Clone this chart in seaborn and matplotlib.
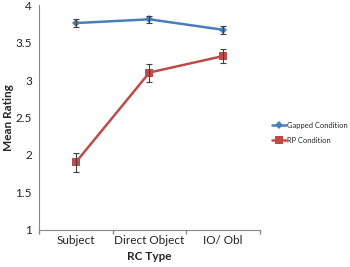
import matplotlib
matplotlib.use("Agg")
import matplotlib.pyplot as plt
import numpy as np
import pandas as pd
import seaborn as sns

rc_types = ["Subject", "Direct Object", "IO/ Obl"]
gapped_mean = [3.76, 3.81, 3.67]
gapped_err = [0.05, 0.045, 0.05]
rp_mean = [1.90, 3.10, 3.32]
rp_err = [0.13, 0.12, 0.095]

sns.set_theme(style="white")
plt.rcParams["font.family"] = ["Lato", "DejaVu Sans"]

df = pd.DataFrame({
    "RC Type": rc_types * 2,
    "Mean Rating": gapped_mean + rp_mean,
    "err": gapped_err + rp_err,
    "Condition": ["Gapped Condition"] * 3 + ["RP Condition"] * 3,
})

colors = {"Gapped Condition": "#4A7EBB", "RP Condition": "#BE4B48"}
markers = {"Gapped Condition": "D", "RP Condition": "s"}
sizes = {"Gapped Condition": 4, "RP Condition": 6}

fig = plt.figure(figsize=(3.5, 2.67), dpi=100)
ax = fig.add_axes([0.111, 0.139, 0.632, 0.842])

xpos = np.arange(len(rc_types))
for cond, sub in df.groupby("Condition", sort=False):
    sns.lineplot(x=xpos, y=sub["Mean Rating"].values, ax=ax, color=colors[cond],
                 marker=markers[cond], markersize=sizes[cond], markeredgewidth=0,
                 linewidth=1.8, label=cond, legend=False)
    ax.errorbar(xpos, sub["Mean Rating"].values, yerr=sub["err"].values, fmt="none",
                ecolor="#404040", elinewidth=0.8, capsize=2, capthick=0.8, zorder=5)

ax.set_xlim(-0.5, 2.5)
ax.set_ylim(1, 4)
ax.set_yticks([1, 1.5, 2, 2.5, 3, 3.5, 4])
ax.set_yticklabels(["1", "1.5", "2", "2.5", "3", "3.5", "4"])
ax.set_xticks(xpos)
ax.set_xticklabels(rc_types)
ax.set_xticks([-0.5, 0.5, 1.5, 2.5], minor=True)
ax.tick_params(axis="x", which="major", length=0, labelsize=8.5, colors="#222222", pad=4)
ax.tick_params(axis="x", which="minor", length=3, color="#888888", direction="out")
ax.tick_params(axis="y", length=3, color="#888888", direction="out", labelsize=8.5,
               colors="#222222", pad=2)
ax.xaxis.set_tick_params(which="minor", bottom=True)

for s in ["top", "right"]:
    ax.spines[s].set_visible(False)
for s in ["left", "bottom"]:
    ax.spines[s].set_color("#888888")
    ax.spines[s].set_linewidth(0.8)

ax.set_xlabel("RC Type", fontsize=8.5, fontweight="bold", labelpad=3)
ax.set_ylabel("Mean Rating", fontsize=8.5, fontweight="bold", va="center")
ax.yaxis.set_label_coords(-0.135, 0.5)

handles, labels = ax.get_legend_handles_labels()
fig.legend(handles, labels, loc="upper left", bbox_to_anchor=(0.768, 0.555),
           frameon=False, fontsize=5.4, handlelength=1.9, handletextpad=0.15,
           labelspacing=1.1, borderaxespad=0)

fig.savefig("out.png", dpi=100)
